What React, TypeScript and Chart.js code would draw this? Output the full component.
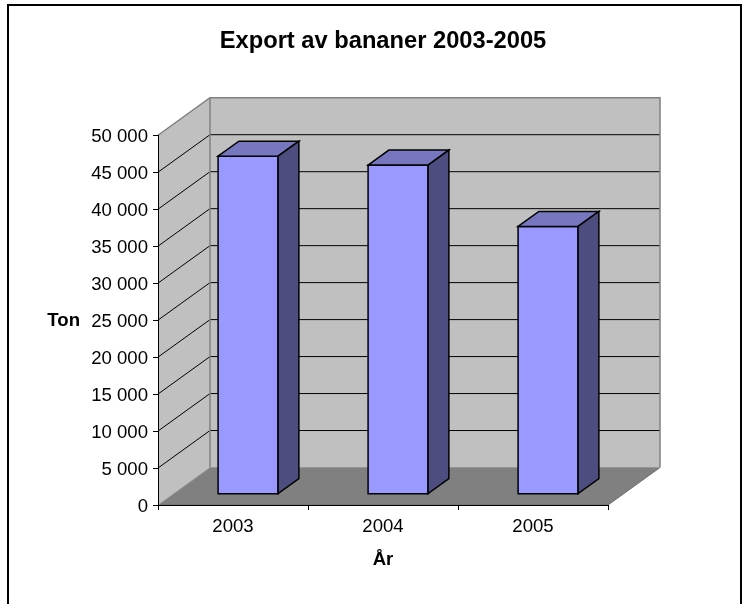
import React, { useEffect, useRef } from "react";
import { Chart, registerables } from "chart.js";

Chart.register(...registerables);

// ---- data ----
const categories = ["2003", "2004", "2005"];
const exportTon = [45700, 44500, 36200];
const yMin = 0;
const yMax = 50000;
const yStep = 5000;
const chartTitle = "Export av bananer 2003-2005";
const yAxisTitle = "Ton";
const xAxisTitle = "År";

// ---- style ----
const FONT = "'Liberation Sans', Arial, sans-serif";
const DEPTH_X = 52;
const DEPTH_Y = -37.5;
const BAR_FRONT = 0.29;
const BAR_DEPTH = 0.4;

const fmt = (v: number) => String(v).replace(/\B(?=(\d{3})+(?!\d))/g, " ");

const poly = (ctx: CanvasRenderingContext2D, pts: number[][], fill: string, stroke: string, lw: number) => {
  ctx.beginPath();
  ctx.moveTo(pts[0][0], pts[0][1]);
  for (let i = 1; i < pts.length; i++) ctx.lineTo(pts[i][0], pts[i][1]);
  ctx.closePath();
  if (fill) {
    ctx.fillStyle = fill;
    ctx.fill();
  }
  if (stroke) {
    ctx.strokeStyle = stroke;
    ctx.lineWidth = lw;
    ctx.lineJoin = "miter";
    ctx.stroke();
  }
};

const threeDPlugin = {
  id: "threeD",
  beforeDraw(chart: any) {
    const { ctx, chartArea: a, scales } = chart;
    const ys = scales.y;
    ctx.save();
    // outer frame
    ctx.strokeStyle = "#000";
    ctx.lineWidth = 2;
    ctx.strokeRect(8, 5, 733, 700);

    const L = a.left;
    const R = a.right;
    const B = ys.getPixelForValue(yMin);
    const T = ys.getPixelForValue(yMax);
    const dx = DEPTH_X;
    const dy = DEPTH_Y;

    // floor
    poly(ctx, [[L, B], [R, B], [R + dx, B + dy], [L + dx, B + dy]], "#808080", "#6a6a6a", 1);
    // side wall
    poly(ctx, [[L, T], [L + dx, T + dy], [L + dx, B + dy], [L, B]], "#c0c0c0", "", 0);
    // back wall
    poly(ctx, [[L + dx, T + dy], [R + dx, T + dy], [R + dx, B + dy], [L + dx, B + dy]], "#c0c0c0", "", 0);

    // gridlines
    ctx.strokeStyle = "#000";
    ctx.lineWidth = 1;
    for (let v = yMin + yStep; v < yMax; v += yStep) {
      const py = ys.getPixelForValue(v);
      ctx.beginPath();
      ctx.moveTo(L, py);
      ctx.lineTo(L + dx, py + dy);
      ctx.lineTo(R + dx, py + dy);
      ctx.stroke();
    }
    // wall outlines
    ctx.strokeStyle = "#808080";
    ctx.lineWidth = 1.5;
    ctx.beginPath();
    ctx.moveTo(L, T);
    ctx.lineTo(L + dx, T + dy);
    ctx.lineTo(R + dx, T + dy);
    ctx.lineTo(R + dx, B + dy);
    ctx.moveTo(L + dx, T + dy);
    ctx.lineTo(L + dx, B + dy);
    ctx.stroke();
    ctx.strokeStyle = "#a0a0a0";
    ctx.lineWidth = 1;
    ctx.beginPath();
    ctx.moveTo(L, B);
    ctx.lineTo(L + dx, B + dy);
    ctx.stroke();
    ctx.restore();
  },
  afterDatasetsDraw(chart: any) {
    const { ctx } = chart;
    const meta = chart.getDatasetMeta(0);
    const fx = DEPTH_X * BAR_FRONT;
    const fy = DEPTH_Y * BAR_FRONT;
    const dx = DEPTH_X * BAR_DEPTH;
    const dy = DEPTH_Y * BAR_DEPTH;
    ctx.save();
    meta.data.forEach((bar: any) => {
      const { x, y, base, width } = bar.getProps(["x", "y", "base", "width"], true);
      const l = x - width / 2 + fx;
      const r = x + width / 2 + fx;
      const t = y + fy;
      const b = base + fy;
      poly(ctx, [[l, b], [l, t], [r, t], [r, b]], "#9999ff", "#000", 1.5);
      poly(ctx, [[l, t], [l + dx, t + dy], [r + dx, t + dy], [r, t]], "#7777bf", "#000", 1.5);
      poly(ctx, [[r, t], [r + dx, t + dy], [r + dx, b + dy], [r, b]], "#4d4d80", "#000", 1.5);
    });
    ctx.restore();
  },
  afterDraw(chart: any) {
    const { ctx, chartArea: a } = chart;
    ctx.save();
    ctx.fillStyle = "#000";
    ctx.font = `bold 18.6px ${FONT}`;
    ctx.textAlign = "right";
    ctx.textBaseline = "middle";
    ctx.fillText(yAxisTitle, 80, (a.top + a.bottom) / 2 + 1);
    ctx.textAlign = "center";
    ctx.textBaseline = "alphabetic";
    ctx.fillText(xAxisTitle, (a.left + a.right) / 2, 565);
    ctx.restore();
  },
};

export default function App() {
  const ref = useRef<HTMLCanvasElement | null>(null);
  useEffect(() => {
    if (!ref.current) return;
    const chart = new Chart(ref.current, {
      type: "bar",
      data: {
        labels: categories,
        datasets: [
          {
            label: "Export",
            data: exportTon,
            backgroundColor: "rgba(0,0,0,0)",
            borderWidth: 0,
            categoryPercentage: 1,
            barPercentage: 0.4,
          },
        ],
      },
      options: {
        animation: false,
        responsive: false,
        maintainAspectRatio: false,
        events: [],
        layout: { padding: { top: 0, left: 0, right: 138, bottom: 0 } },
        plugins: {
          legend: { display: false },
          tooltip: { enabled: false },
          title: {
            display: true,
            text: chartTitle,
            fullSize: false,
            color: "#000",
            font: { family: FONT, size: 23.7, weight: "bold" },
            padding: { top: 27.3, bottom: 79.5 },
          },
        },
        scales: {
          x: {
            afterFit: (s: any) => {
              s.height = 99;
            },
            grid: { drawOnChartArea: false, drawTicks: true, tickLength: 5, color: "#000", offset: true },
            border: { display: true, color: "#000", width: 1 },
            ticks: { color: "#000", font: { family: FONT, size: 18.6 }, padding: 6 },
          },
          y: {
            min: yMin,
            max: yMax,
            afterFit: (s: any) => {
              s.width = 158;
            },
            grid: { drawOnChartArea: false, drawTicks: true, tickLength: 5, color: "#000" },
            border: { display: true, color: "#000", width: 1 },
            ticks: {
              stepSize: yStep,
              color: "#000",
              padding: 5,
              labelOffset: 1.5,
              font: { family: FONT, size: 18.6 },
              callback: (v: any) => fmt(Number(v)),
            },
          },
        },
      },
      plugins: [threeDPlugin],
    });
    return () => chart.destroy();
  }, []);
  return (
    <div style={{ position: "fixed", left: 0, top: 0, width: 746, height: 604, background: "#fff" }}>
      <canvas ref={ref} width={746} height={604} style={{ display: "block", width: 746, height: 604 }} />
    </div>
  );
}
